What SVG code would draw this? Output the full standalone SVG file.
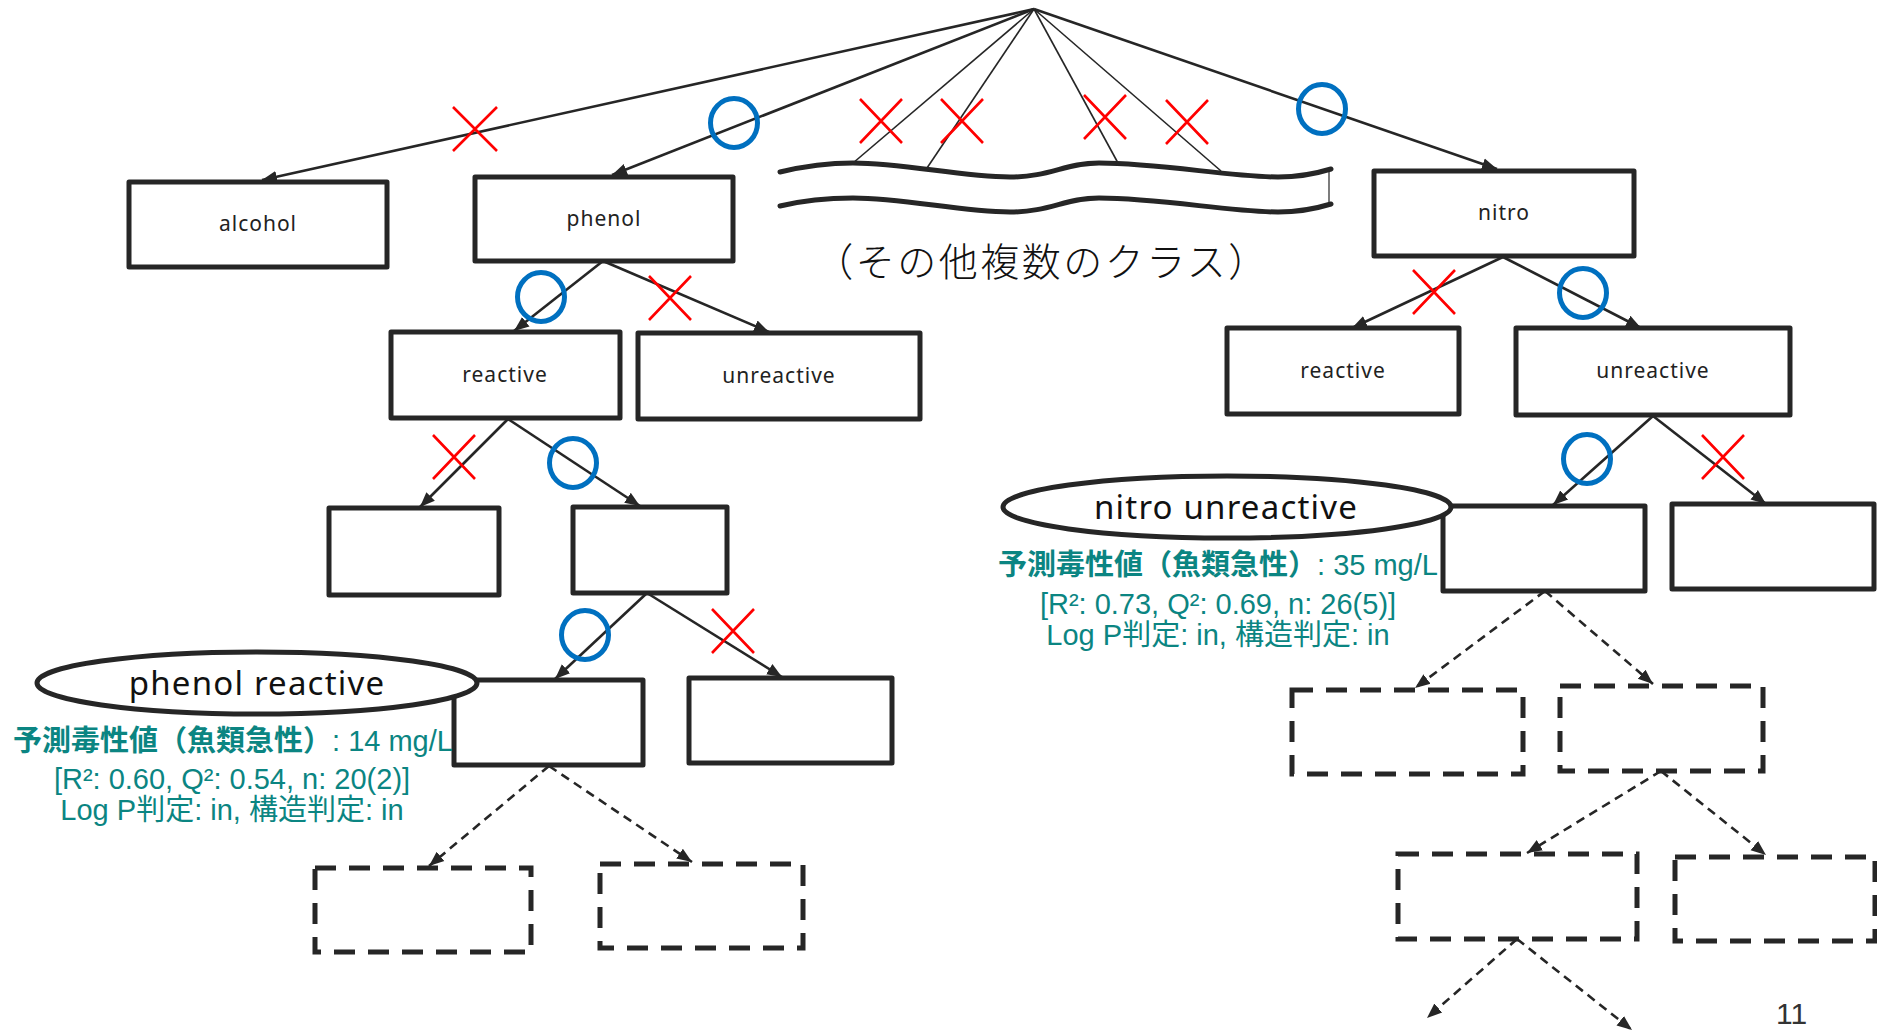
<svg xmlns="http://www.w3.org/2000/svg" width="1877" height="1034" viewBox="0 0 1877 1034">
<style>
.box{fill:#fff;stroke:#262626;stroke-width:5;stroke-linejoin:round}
.dbox{fill:none;stroke:#262626;stroke-width:5;stroke-dasharray:21 13}
.edge{fill:none;stroke:#262626;stroke-width:2.6}
.thin{fill:none;stroke:#262626;stroke-width:1.6}
.dedge{fill:none;stroke:#262626;stroke-width:2.6;stroke-dasharray:9 6}
.lbl{font-family:"Noto Sans","Liberation Sans",sans-serif;font-size:21px;letter-spacing:1px;fill:#222;text-anchor:middle}
.ell{fill:#fff;stroke:#262626;stroke-width:5}
.elbl{font-family:"Noto Sans","Liberation Sans",sans-serif;font-size:33px;letter-spacing:1.2px;fill:#111;text-anchor:middle}
.info{font-family:"Liberation Sans","Noto Sans CJK JP",sans-serif;font-size:29px;fill:#0b8582}
.bold{font-family:"Noto Sans CJK JP",sans-serif;font-weight:bold}
.ok{fill:none;stroke:#0070C0;stroke-width:5}
.ng{fill:none;stroke:#FF0000;stroke-width:2.6}
.wave{fill:none;stroke:#262626;stroke-width:5;stroke-linecap:round}
</style>
<defs>
<marker id="ah" markerUnits="userSpaceOnUse" markerWidth="16" markerHeight="14" viewBox="0 0 16 14" refX="15" refY="7" orient="auto">
<path d="M0,1 L15,7 L0,13 Z" fill="#262626"/>
</marker>
</defs>

<g id="connectors">
<path class="edge" d="M1034,9 L262,180" marker-end="url(#ah)"/>
<path class="edge" d="M1034,9 L612,175" marker-end="url(#ah)"/>
<path class="thin" d="M1034,9 L853,163"/>
<path class="thin" d="M1034,9 L927,168"/>
<path class="thin" d="M1034,9 L1118,163"/>
<path class="thin" d="M1034,9 L1221,171"/>
<path class="edge" d="M1034,9 L1497,169" marker-end="url(#ah)"/>
<path class="edge" d="M603,261 L514,331" marker-end="url(#ah)"/>
<path class="edge" d="M603,261 L769,332" marker-end="url(#ah)"/>
<path class="edge" d="M508,419 L420,507" marker-end="url(#ah)"/>
<path class="edge" d="M508,419 L640,506" marker-end="url(#ah)"/>
<path class="edge" d="M647,593 L555,679" marker-end="url(#ah)"/>
<path class="edge" d="M647,593 L782,677" marker-end="url(#ah)"/>
<path class="edge" d="M1503,257 L1352,328" marker-end="url(#ah)"/>
<path class="edge" d="M1503,257 L1641,328" marker-end="url(#ah)"/>
<path class="edge" d="M1653,416 L1553,505" marker-end="url(#ah)"/>
<path class="edge" d="M1653,416 L1766,504" marker-end="url(#ah)"/>
<path class="dedge" d="M549,766 L429,866" marker-end="url(#ah)"/>
<path class="dedge" d="M549,766 L692,862" marker-end="url(#ah)"/>
<path class="dedge" d="M1545,591 L1415,688" marker-end="url(#ah)"/>
<path class="dedge" d="M1545,591 L1653,684" marker-end="url(#ah)"/>
<path class="dedge" d="M1661,771 L1527,853" marker-end="url(#ah)"/>
<path class="dedge" d="M1661,771 L1766,855" marker-end="url(#ah)"/>
<path class="dedge" d="M1517,939 L1427,1018" marker-end="url(#ah)"/>
<path class="dedge" d="M1517,939 L1632,1030" marker-end="url(#ah)"/>
</g>

<g id="other-classes">
<path class="wave" d="M780,172 C805,166 825,163 853,163 C905,163 960,177 1010,177 C1050,177 1065,163 1099,163 C1160,163 1230,177 1278,177 C1300,177 1318,173 1331,169"/>
<path class="wave" d="M780,206 C805,200 825,198 853,198 C905,198 960,212 1010,212 C1050,212 1065,198 1099,198 C1160,198 1230,212 1278,212 C1300,212 1318,208 1331,204"/>
<line x1="1329" y1="171" x2="1329" y2="205" stroke="#262626" stroke-width="1.2"/>
<text x="1042" y="276" font-family="Noto Sans CJK JP, sans-serif" font-weight="300" font-size="39" letter-spacing="2.5" fill="#111" text-anchor="middle">（その他複数のクラス）</text>
</g>

<g id="node-alcohol"><rect class="box" x="129" y="182" width="258" height="85"/><text class="lbl" x="258" y="231">alcohol</text></g>
<g id="node-phenol"><rect class="box" x="475" y="177" width="258" height="84"/><text class="lbl" x="604" y="226">phenol</text></g>
<g id="node-nitro"><rect class="box" x="1374" y="171" width="260" height="85"/><text class="lbl" x="1504" y="220">nitro</text></g>
<g id="node-phenol-reactive"><rect class="box" x="391" y="332" width="229" height="86"/><text class="lbl" x="505" y="382">reactive</text></g>
<g id="node-phenol-unreactive"><rect class="box" x="638" y="333" width="282" height="86"/><text class="lbl" x="779" y="383">unreactive</text></g>
<g id="node-nitro-reactive"><rect class="box" x="1227" y="328" width="232" height="86"/><text class="lbl" x="1343" y="378">reactive</text></g>
<g id="node-nitro-unreactive"><rect class="box" x="1516" y="328" width="274" height="87"/><text class="lbl" x="1653" y="378">unreactive</text></g>
<g id="node-pr-a"><rect class="box" x="329" y="508" width="170" height="87"/></g>
<g id="node-pr-b"><rect class="box" x="573" y="507" width="154" height="86"/></g>
<g id="node-pr-c"><rect class="box" x="454" y="680" width="189" height="85"/></g>
<g id="node-pr-d"><rect class="box" x="689" y="678" width="203" height="85"/></g>
<g id="node-nu-g"><rect class="box" x="1443" y="506" width="202" height="85"/></g>
<g id="node-nu-h"><rect class="box" x="1672" y="504" width="202" height="85"/></g>
<g id="node-e"><rect class="dbox" x="315" y="868" width="216" height="84"/></g>
<g id="node-f"><rect class="dbox" x="600" y="864" width="203" height="84"/></g>
<g id="node-i"><rect class="dbox" x="1292" y="690" width="231" height="84"/></g>
<g id="node-j"><rect class="dbox" x="1560" y="686" width="203" height="85"/></g>
<g id="node-k"><rect class="dbox" x="1398" y="854" width="239" height="85"/></g>
<g id="node-l"><rect class="dbox" x="1675" y="857" width="200" height="84"/></g>

<g id="label-phenol-reactive">
<ellipse class="ell" cx="257" cy="683" rx="220" ry="31"/>
<text class="elbl" x="257" y="695">phenol reactive</text>
<text class="info" x="13" y="751"><tspan class="bold">予測毒性値（魚類急性）</tspan>: 14 mg/L</text>
<text class="info" x="232" y="789" text-anchor="middle">[R²: 0.60, Q²: 0.54, n: 20(2)]</text>
<text class="info" x="232" y="820" text-anchor="middle">Log P判定: in, 構造判定: in</text>
</g>

<g id="label-nitro-unreactive">
<ellipse class="ell" cx="1227" cy="507" rx="224" ry="31"/>
<text class="elbl" x="1226" y="519">nitro unreactive</text>
<text class="info" x="998" y="575"><tspan class="bold">予測毒性値（魚類急性）</tspan>: 35 mg/L</text>
<text class="info" x="1218" y="614" text-anchor="middle">[R²: 0.73, Q²: 0.69, n: 26(5)]</text>
<text class="info" x="1218" y="645" text-anchor="middle">Log P判定: in, 構造判定: in</text>
</g>

<g id="marks-ok">
<ellipse class="ok" cx="734" cy="123" rx="23.5" ry="24.5"/>
<ellipse class="ok" cx="1322" cy="109" rx="23.5" ry="24.5"/>
<ellipse class="ok" cx="541" cy="297" rx="23.5" ry="24.5"/>
<ellipse class="ok" cx="573" cy="463" rx="23.5" ry="24.5"/>
<ellipse class="ok" cx="585" cy="635" rx="23.5" ry="24.5"/>
<ellipse class="ok" cx="1583" cy="293" rx="23.5" ry="24.5"/>
<ellipse class="ok" cx="1587" cy="459" rx="23.5" ry="24.5"/>
</g>

<g id="marks-ng">
<path class="ng" d="M453,107 L497,151 M497,107 L453,151"/>
<path class="ng" d="M860,99 L902,143 M902,99 L860,143"/>
<path class="ng" d="M941,99 L983,143 M983,99 L941,143"/>
<path class="ng" d="M1084,95 L1126,139 M1126,95 L1084,139"/>
<path class="ng" d="M1166,100 L1208,144 M1208,100 L1166,144"/>
<path class="ng" d="M649,276 L691,320 M691,276 L649,320"/>
<path class="ng" d="M433,435 L475,479 M475,435 L433,479"/>
<path class="ng" d="M712,609 L754,653 M754,609 L712,653"/>
<path class="ng" d="M1413,270 L1455,314 M1455,270 L1413,314"/>
<path class="ng" d="M1702,435 L1744,479 M1744,435 L1702,479"/>
</g>

<text id="page-number" x="1776" y="1024" font-family="Liberation Sans, sans-serif" font-size="30" fill="#333">11</text>
</svg>
